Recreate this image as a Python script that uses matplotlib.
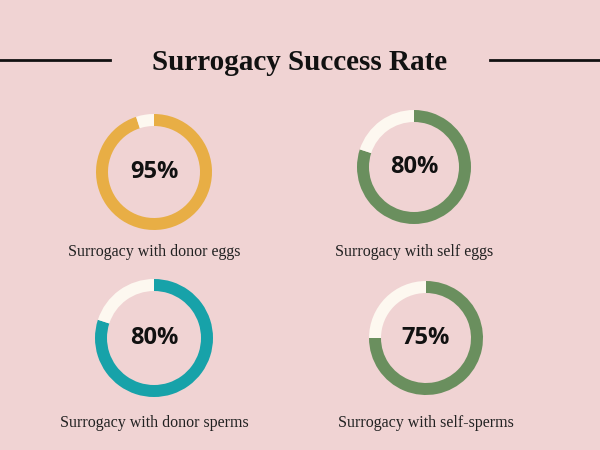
import matplotlib.pyplot as plt

# chart data
labels = ["Surrogacy with donor eggs", "Surrogacy with self eggs",
          "Surrogacy with donor sperms", "Surrogacy with self-sperms"]
rates = [95, 80, 80, 75]
colors = ["#e8ae45", "#6a8f5e", "#17a2a9", "#6a8f5e"]

# layout (pixel coords, y from top)
centers = [(154, 172), (414, 167), (154, 338), (426, 338)]
radii = [58, 57, 59, 57]
label_y = [252, 252, 423, 423]
bg = "#f0d3d3"

fig = plt.figure(figsize=(6, 4.5), dpi=100, facecolor=bg)
ax = fig.add_axes([0, 0, 1, 1])
ax.set_facecolor(bg)

for (cx, cy), r, rate, col, lab, ly in zip(centers, radii, rates, colors, labels, label_y):
    ax.pie([rate, 100 - rate], colors=[col, "#fdf8f0"], startangle=90,
           counterclock=False, center=(cx, 450 - cy), radius=r,
           wedgeprops=dict(width=12, linewidth=0))
    ax.text(cx, 450 - cy, f"{rate}%", ha="center", va="center",
            fontsize=17, fontweight="bold", family="Open Sans", color="#111111")
    ax.text(cx, 450 - ly, lab, ha="center", va="center",
            fontsize=11.5, family="Liberation Serif", color="#222222")

ax.text(300, 450 - 62, "Surrogacy Success Rate", ha="center", va="center",
        fontsize=21, fontweight="bold", family="Liberation Serif", color="#111111")
ax.plot([0, 110], [390, 390], color="#111111", lw=2)
ax.plot([490, 600], [390, 390], color="#111111", lw=2)

ax.set_xlim(0, 600)
ax.set_ylim(0, 450)
ax.set_aspect("auto")
ax.axis("off")

plt.savefig("out.png", dpi=100, facecolor=bg)
